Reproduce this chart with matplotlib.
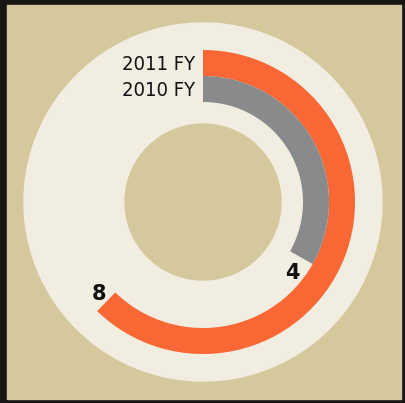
import numpy as np
import matplotlib
matplotlib.use('Agg')
import matplotlib.pyplot as plt
from matplotlib.patches import Rectangle, Circle, Wedge

# Data
years = ['2011 FY', '2010 FY']
values = [8, 4]
# full-circle scale of each ring
ring_totals = [12.85, 12.05]
ring_colors = ['#F86734', '#898A8C']

W, H = 405, 403
fig = plt.figure(figsize=(W / 100, H / 100), dpi=100)
fig.patch.set_facecolor('#191515')
ax = fig.add_axes([0, 0, 1, 1])
ax.set_xlim(0, W)
ax.set_ylim(0, H)
ax.axis('off')

# tan panel and cream disc
ax.add_patch(Rectangle((7, H - 398.5), 394, 393.5, color='#D5C89D', zorder=0))
cx, cy = 203, H - 202
ax.add_patch(Circle((cx, cy), 179, color='#F1EDE1', zorder=1))

# rings: outer radius, thickness
ring_r = [152, 126]
ring_w = 26
label_offset = [5, 9]  # degrees past arc end where value sits
for i, (val, tot) in enumerate(zip(values, ring_totals)):
    sweep = 360.0 * val / tot
    ax.add_patch(Wedge((cx, cy), ring_r[i], 90 - sweep, 90, width=ring_w,
                       color=ring_colors[i], zorder=2, linewidth=0))
    # value label just after the end of the arc
    a = np.deg2rad(90 - sweep - label_offset[i])
    rm = ring_r[i] - ring_w / 2
    ax.text(cx + rm * np.cos(a) + 1, cy + rm * np.sin(a) - 1, str(val),
            ha='center', va='center', fontsize=15, fontweight='bold',
            color='#111111', zorder=3)
    # year label left of arc start
    ax.text(cx - 8, cy + rm - 2, years[i], ha='right', va='center',
            fontsize=14.5, family=['Liberation Sans Narrow', 'DejaVu Sans'],
            stretch='condensed', color='#111111', zorder=3)

# tan hole in the middle
ax.add_patch(Circle((cx, cy), 78, color='#D5C89D', zorder=2))

fig.savefig('out.png', dpi=100, facecolor=fig.get_facecolor())
